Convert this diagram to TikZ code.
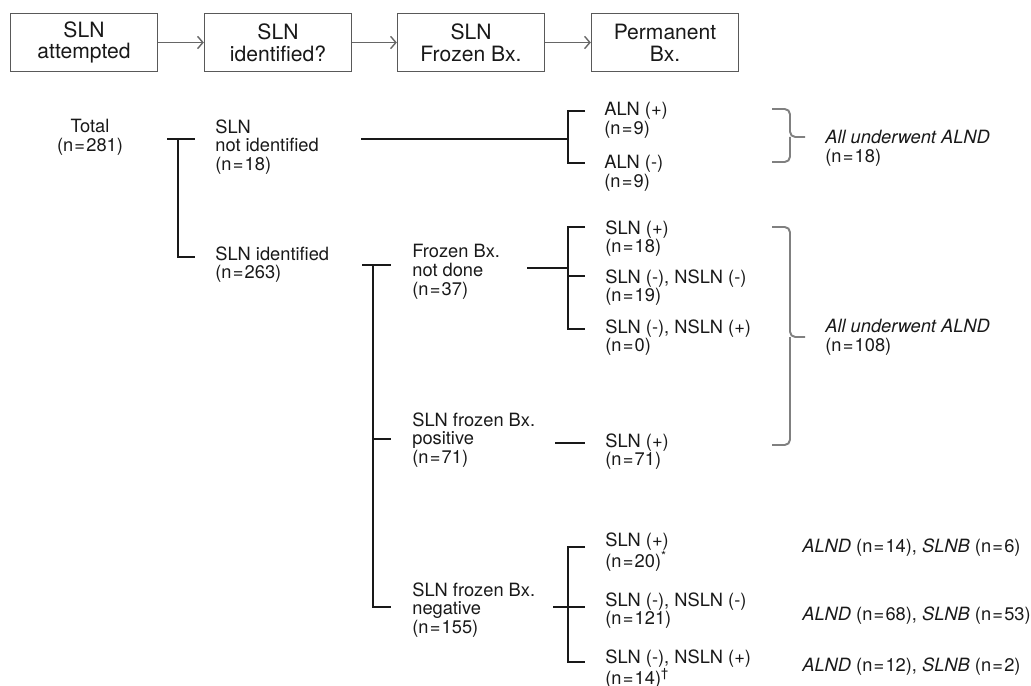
\documentclass[tikz,border=0pt]{standalone}
\usepackage{fontspec}
\setmainfont{TeX Gyre Heros}
\usetikzlibrary{arrows.meta}
\newcommand\nis[1]{(n\kern0.7pt=\kern0.7pt#1)}

\begin{document}
\begin{tikzpicture}[x={(0.02cm,0cm)},y={(0cm,-0.02cm)},
  box/.style={draw=black!65,line width=0.8pt,minimum width=2.94cm,minimum height=1.16cm,inner sep=0pt,align=center,text=black!90,font=\fontsize{12}{12.4}\selectfont},
  lbl/.style={anchor=north west,inner sep=0pt,align=left,text=black!90,font=\fontsize{10.4}{10.8}\selectfont},
  flow/.style={draw=black!60,line width=0.8pt,-{Straight Barb[length=3pt,width=7pt]}},
  tree/.style={line width=1.1pt,black!90},
  brace/.style={draw=black!50,line width=1.1pt,rounded corners=3pt}]
  \useasboundingbox (0,0) rectangle (1031,686);
  % steps
  \node[box] (att) at (84,42.5) {SLN\\attempted};
  \node[box] (idf) at (278,42.5) {SLN\\identified?};
  \node[box] (frz) at (471,42.5) {SLN\\Frozen Bx.};
  \node[box] (prm) at (665,42.5) {Permanent\\Bx.};
  \draw[flow] (att) -- (idf);
  \draw[flow] (idf) -- (frz);
  \draw[flow] (frz) -- (prm);
  % first split
  \node[lbl,anchor=north,align=center] (tot) at (90,119) {Total\\\nis{281}};
  \node[lbl] (nid) at (215,119) {SLN\\not identified\\\nis{18}};
  \node[lbl] (sid) at (215,246) {SLN identified\\\nis{263}};
  \draw[tree] (167,139) -- (195,139) (178,139) -- (178,257) -- (195,257);
  % not identified
  \draw[tree] (361,139) -- (568,139);
  \draw[tree] (585,111) -- (568,111) -- (568,163) -- (585,163);
  \node[lbl] (alp) at (604,102) {ALN (+)\\\nis{9}};
  \node[lbl] (aln) at (604,155) {ALN (-)\\\nis{9}};
  \draw[brace] (772,109) -- (790,109) -- (790,137) -- (805,137);
  \draw[brace] (772,162) -- (790,162) -- (790,137);
  \node[lbl] (all1) at (825,130) {\textit{All underwent ALND}\\\nis{18}};
  % identified
  \draw[tree] (362,265) -- (391,265) (373,265) -- (373,607) -- (391,607) (373,439) -- (391,439);
  \node[lbl] (fnd) at (412,244) {Frozen Bx.\\not done\\\nis{37}};
  \node[lbl] (fpo) at (412,412) {SLN frozen Bx.\\positive\\\nis{71}};
  \node[lbl] (fne) at (412,582) {SLN frozen Bx.\\negative\\\nis{155}};
  % frozen not done
  \draw[tree] (527,268) -- (568,268);
  \draw[tree] (585,227) -- (568,227) -- (568,329) -- (585,329) (568,276) -- (585,276);
  \node[lbl] (nd1) at (605,220) {SLN (+)\\\nis{18}};
  \node[lbl] (nd2) at (605,269) {SLN (-), NSLN (-)\\\nis{19}};
  \node[lbl] (nd3) at (605,319) {SLN (-), NSLN (+)\\\nis{0}};
  % frozen positive
  \draw[tree] (555,443) -- (585,443);
  \node[lbl] (po1) at (605,433) {SLN (+)\\\nis{71}};
  \draw[brace] (772,227) -- (790,227) -- (790,337) -- (805,337);
  \draw[brace] (772,445) -- (790,445) -- (790,337);
  \node[lbl] (all2) at (825,319) {\textit{All underwent ALND}\\\nis{108}};
  % frozen negative
  \draw[tree] (585,547) -- (568,547) -- (568,662) -- (585,662) (553,607) -- (585,607);
  \node[lbl] (ne1) at (605,532) {SLN (+)\\\nis{20}\textsuperscript{*}};
  \node[lbl] (ne2) at (605,592) {SLN (-), NSLN (-)\\\nis{121}};
  \node[lbl] (ne3) at (605,649) {SLN (-), NSLN (+)\\\nis{14}\textsuperscript{†}};
  \node[lbl] (res1) at (802,538) {\textit{ALND} \nis{14}, \textit{SLNB} \nis{6}};
  \node[lbl] (res2) at (802,606) {\textit{ALND} \nis{68}, \textit{SLNB} \nis{53}};
  \node[lbl] (res3) at (802,657) {\textit{ALND} \nis{12}, \textit{SLNB} \nis{2}};
\end{tikzpicture}
\end{document}
